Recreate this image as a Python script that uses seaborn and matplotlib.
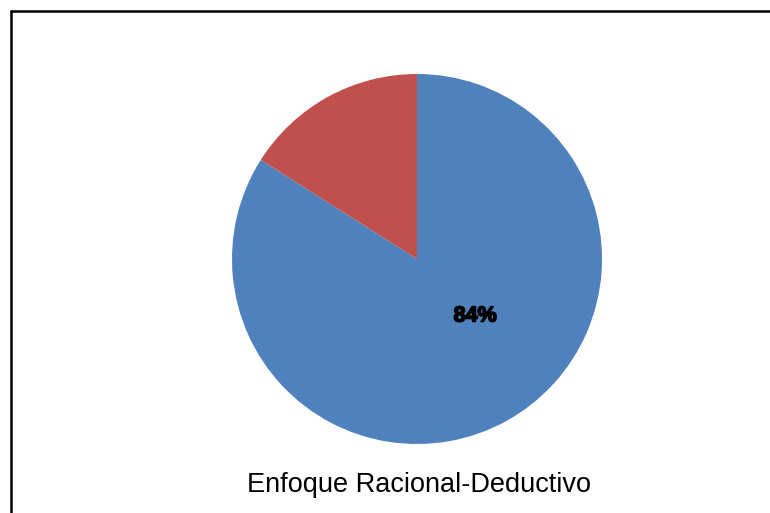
import matplotlib
matplotlib.use("Agg")
import matplotlib.pyplot as plt
import matplotlib.patheffects as pe
import seaborn as sns
from matplotlib.lines import Line2D

# Datos del gráfico
categorias = ["Enfoque Racional-Deductivo", "Otro"]
valores = [84, 16]
colores = ["#4F81BD", "#C0504D"]
titulo = "Enfoque Racional-Deductivo"

sns.set_theme(style="white")
plt.rcParams['font.family'] = ['Liberation Sans', 'DejaVu Sans']

fig = plt.figure(figsize=(7.7, 5.13), dpi=100)
fig.patch.set_facecolor("white")

# ejes cuadrados centrados donde va el pastel
W, H = 770, 513
cx, cy, r = 417, 259, 185
ax = fig.add_axes([(cx - r) / W, (H - cy - r) / H, 2 * r / W, 2 * r / H])

wedges, textos = ax.pie(
    valores,
    colors=colores,
    startangle=90,
    counterclock=False,
    radius=1,
    wedgeprops=dict(linewidth=0),
)
ax.set_xlim(-1, 1)
ax.set_ylim(-1, 1)
ax.set_aspect("equal")
ax.axis("off")

# etiqueta de porcentaje (solo la porción azul)
ax.text(0.314, -0.308, f"{valores[0]}%", ha="center", va="center",
        fontsize=15.5, fontweight="bold", color="black",
        path_effects=[pe.withStroke(linewidth=1.2, foreground="black")])

# título abajo
fig.text(419 / W, 1 - 492 / H, titulo, ha="center", va="baseline",
         fontsize=19.5, color="black")

# marco (solo arriba e izquierda visibles)
fig.add_artist(Line2D([10.5 / W, 10.5 / W], [0, 1 - 11 / H], transform=fig.transFigure,
                      color="black", linewidth=1.8))
fig.add_artist(Line2D([10.5 / W, 1], [1 - 11 / H, 1 - 11 / H], transform=fig.transFigure,
                      color="black", linewidth=1.8))

fig.savefig("out.png", dpi=100)
